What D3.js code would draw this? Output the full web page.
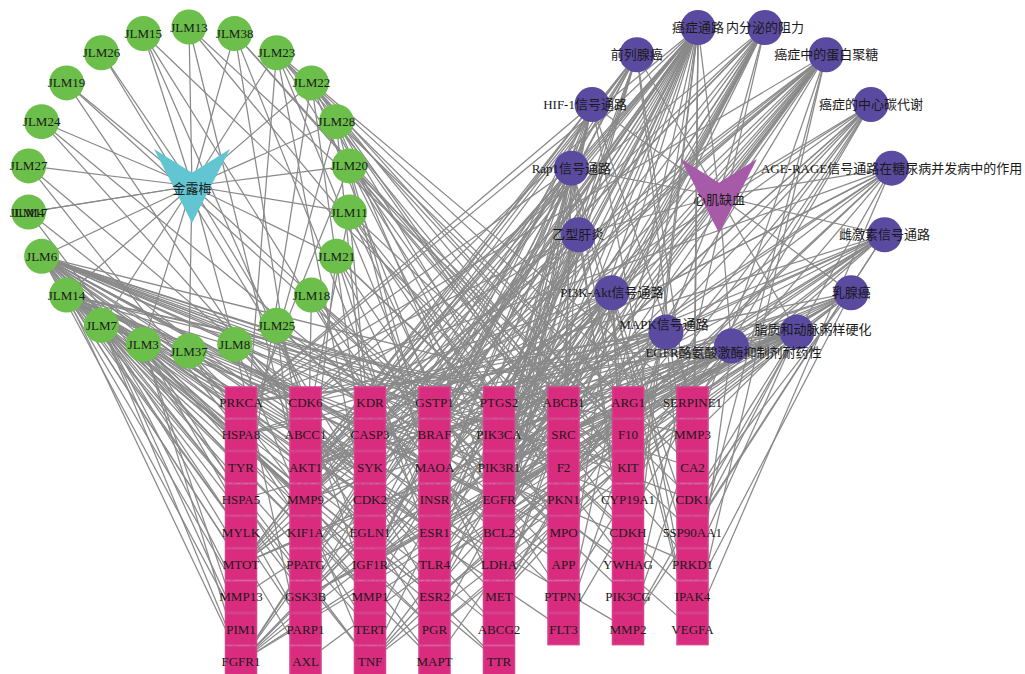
<!DOCTYPE html>
<html>
<head>
<meta charset="utf-8">
<script src="https://cdn.jsdelivr.net/npm/d3@7/dist/d3.min.js"></script>
<style>
  html, body { margin: 0; padding: 0; background: #fff; }
  svg text { font-family: "Liberation Serif", "Noto Sans CJK SC", serif; font-size: 13px; fill: #1a1a1a; }
</style>
</head>
<body>
<svg id="chart" width="1025" height="674"></svg>
<script>
// ---- nodes ----
const herb = "金露梅";
const disease = "心肌缺血";

// compound ring, clockwise from the top; JLM17 and JLM4 share one slot
const compoundSlots = [
  ["JLM13"], ["JLM38"], ["JLM23"], ["JLM22"], ["JLM28"], ["JLM20"], ["JLM11"],
  ["JLM21"], ["JLM18"], ["JLM25"], ["JLM8"], ["JLM37"], ["JLM3"], ["JLM7"],
  ["JLM14"], ["JLM6"], ["JLM17", "JLM4"], ["JLM27"], ["JLM24"], ["JLM19"],
  ["JLM26"], ["JLM15"]
];

// pathway ring, clockwise from the top
const pathways = [
  "癌症通路", "内分泌的阻力", "癌症中的蛋白聚糖", "癌症的中心碳代谢",
  "AGE-RAGE信号通路在糖尿病并发病中的作用", "雌激素信号通路", "乳腺癌",
  "脂质和动脉粥样硬化", "EGFR酪氨酸激酶抑制剂耐药性", "MAPK信号通路",
  "PI3K-Akt信号通路", "乙型肝炎", "Rap1信号通路", "HIF-1信号通路", "前列腺癌"
];

// target genes, one list per grid column
const geneColumns = [
  ["PRKCA", "HSPA8", "TYR", "HSPA5", "MYLK", "MTOT", "MMP13", "PIM1", "FGFR1"],
  ["CDK6", "ABCC1", "AKT1", "MMP9", "KIF1A", "PPATG", "GSK3B", "PARP1", "AXL"],
  ["KDR", "CASP3", "SYK", "CDK2", "EGLN1", "IGF1R", "MMP1", "TERT", "TNF"],
  ["GSTP1", "BRAF", "MAOA", "INSR", "ESR1", "TLR4", "ESR2", "PGR", "MAPT"],
  ["PTGS2", "PIK3CA", "PIK3R1", "EGFR", "BCL2", "LDHA", "MET", "ABCG2", "TTR"],
  ["ABCB1", "SRC", "F2", "PKN1", "MPO", "APP", "PTPN1", "FLT3"],
  ["ARG1", "F10", "KIT", "CYP19A1", "CDKH", "YWHAG", "PIK3CG", "MMP2"],
  ["SERPINE1", "MMP3", "CA2", "CDK1", "5SP90AA1", "PRKD1", "IPAK4", "VEGFA"]
];

// ---- links ----
const compoundTargets = [
  ["JLM6", "PRKCA HSPA8 TYR HSPA5 MYLK MTOT MMP13 PIM1 CDK6 AKT1 MMP9 GSK3B KDR CASP3 SYK CDK2 IGF1R GSTP1 BRAF MAOA INSR ESR1 PTGS2 PIK3CA EGFR SRC F2 ARG1 KIT CYP19A1 CA2 CDK1"],
  ["JLM14", "PRKCA HSPA5 MYLK MTOT FGFR1 CDK6 ABCC1 AKT1 KIF1A SYK CDK2 EGLN1 ESR1 ESR2 PGR PTGS2 PIK3R1 EGFR ABCB1 PKN1 MPO KIT MMP3 PRKD1"],
  ["JLM7", "MMP13 PIM1 FGFR1 PARP1 AXL TERT TNF CDK6 MMP9 ESR2 MAPT TTR"],
  ["JLM3", "PIM1 FGFR1 GSK3B PARP1 MMP1 PGR ABCG2 FLT3 MMP2"],
  ["JLM37", "TERT MAPT TTR LDHA"],
  ["JLM8", "AXL TNF TLR4 MET APP"],
  ["JLM25", "PPATG IGF1R MMP1 BCL2 PTPN1 YWHAG"],
  ["JLM18", "GSK3B ESR1 LDHA APP PIK3CG VEGFA"],
  ["JLM21", "KIF1A TLR4 MET PTPN1 CDKH IPAK4"],
  ["JLM11", "ABCC1 CASP3 BCL2 MPO YWHAG 5SP90AA1"],
  ["JLM20", "HSPA8 MAOA PIK3R1 F2 CYP19A1 PRKD1 CDK1"],
  ["JLM28", "TYR SYK INSR EGFR PKN1 CDKH CA2"],
  ["JLM22", "MYLK CDK2 GSTP1 PIK3CA SRC F10 KIT MMP3"],
  ["JLM23", "HSPA5 EGLN1 BRAF PTGS2 ABCB1 ARG1 F10 SERPINE1"],
  ["JLM38", "AKT1 ESR1 ABCB1 KIT"],
  ["JLM13", "MMP9 PTGS2 F10"],
  ["JLM15", "CDK6 INSR SRC"],
  ["JLM26", "ESR2"],
  ["JLM19", "PGR MPO"],
  ["JLM24", "EGFR ABCG2"],
  ["JLM27", "MMP1 LDHA"],
  ["JLM4", "TNF"],
  ["JLM17", "ESR1"]
];

const pathwayGenes = [
  ["癌症通路", "PRKCA MTOT FGFR1 CDK6 AKT1 MMP9 PPATG GSK3B KDR CASP3 CDK2 EGLN1 IGF1R MMP1 TERT GSTP1 BRAF ESR1 ESR2 PTGS2 PIK3CA PIK3R1 EGFR BCL2 MET KIT FLT3 MMP2 VEGFA 5SP90AA1 IPAK4 F2 PIK3CG"],
  ["内分泌的阻力", "MTOT AKT1 MMP9 IGF1R BRAF ESR1 ESR2 PIK3CA PIK3R1 EGFR BCL2 SRC CDK6 ABCB1 MMP2 PGR"],
  ["前列腺癌", "MTOT AKT1 GSK3B FGFR1 IGF1R CDK2 BRAF PIK3CA PIK3R1 EGFR BCL2 5SP90AA1 MMP3 MMP9"],
  ["癌症中的蛋白聚糖", "PRKCA MTOT FGFR1 AKT1 MMP9 KDR CASP3 IGF1R TNF BRAF ESR1 TLR4 PIK3CA PIK3R1 EGFR MET SRC MMP2 VEGFA PRKD1"],
  ["癌症的中心碳代谢", "MTOT FGFR1 AKT1 KIT FLT3 PIK3CA PIK3R1 EGFR MET LDHA PTPN1"],
  ["HIF-1信号通路", "PRKCA MTOT AKT1 IGF1R INSR EGLN1 TLR4 PIK3CA PIK3R1 EGFR BCL2 LDHA SERPINE1 VEGFA"],
  ["Rap1信号通路", "PRKCA FGFR1 AKT1 KDR IGF1R INSR BRAF PIK3CA PIK3R1 EGFR MET SRC KIT VEGFA F2 PIK3CG PRKD1"],
  ["AGE-RAGE信号通路在糖尿病并发病中的作用", "PRKCA AKT1 MMP2 CASP3 TNF PIK3CA PIK3R1 BCL2 SERPINE1 VEGFA MMP13"],
  ["乙型肝炎", "PRKCA AKT1 MMP9 CASP3 CDK2 TNF TLR4 PIK3CA PIK3R1 BCL2 SRC YWHAG CDK6"],
  ["雌激素信号通路", "AKT1 MMP9 HSPA8 MMP2 ESR1 ESR2 PGR PIK3CA PIK3R1 EGFR BCL2 SRC 5SP90AA1 BRAF"],
  ["PI3K-Akt信号通路", "MTOT FGFR1 CDK6 AKT1 GSK3B KDR CDK2 IGF1R INSR TLR4 PIK3CA PIK3R1 EGFR BCL2 MET KIT FLT3 PIK3CG YWHAG VEGFA 5SP90AA1"],
  ["乳腺癌", "MTOT FGFR1 CDK6 AKT1 GSK3B IGF1R BRAF ESR1 ESR2 PGR PIK3CA PIK3R1 EGFR KIT CDK1 IPAK4"],
  ["MAPK信号通路", "PRKCA FGFR1 AKT1 CASP3 KDR IGF1R INSR TNF BRAF EGFR MET KIT FLT3 VEGFA HSPA8 MAPT"],
  ["脂质和动脉粥样硬化", "PRKCA MTOT AKT1 MMP9 PPATG GSK3B CASP3 MMP1 TNF TLR4 PIK3CA PIK3R1 BCL2 SRC MMP3 HSPA8 HSPA5 5SP90AA1 CDK1 PRKD1"],
  ["EGFR酪氨酸激酶抑制剂耐药性", "PRKCA MTOT FGFR1 AKT1 GSK3B KDR IGF1R BRAF PIK3CA PIK3R1 EGFR BCL2 MET SRC AXL VEGFA"]
];

// ---- layout ----
const svg = d3.select("#chart");
const W = 1025, H = 674;
svg.append("rect").attr("width", W).attr("height", H).attr("fill", "#fff");

const pos = new Map();

// herb hub and compound ring
const herbHub = { x: 192, y: 186 };
const compoundAngle = d3.scaleLinear().domain([0, compoundSlots.length]).range([-Math.PI / 2, 1.5 * Math.PI]);
const compoundRing = { cx: 189, cy: 189, r: 162 };
compoundSlots.forEach((slot, i) => {
  const a = compoundAngle(i);
  slot.forEach(name => pos.set(name, {
    x: compoundRing.cx + compoundRing.r * Math.cos(a),
    y: compoundRing.cy + compoundRing.r * Math.sin(a)
  }));
});
pos.set(herb, herbHub);

// disease hub and pathway ring
const diseaseHub = { x: 719, y: 196 };
const pathwayAngle = d3.scaleLinear().domain([0, pathways.length]).range([-102 * Math.PI / 180, 258 * Math.PI / 180]);
const pathwayRing = { cx: 731.5, cy: 185, r: 161 };
pathways.forEach((name, i) => {
  const a = pathwayAngle(i);
  pos.set(name, {
    x: pathwayRing.cx + pathwayRing.r * Math.cos(a),
    y: pathwayRing.cy + pathwayRing.r * Math.sin(a)
  });
});
pos.set(disease, diseaseHub);

// label nudges for the crowded bottom of the pathway ring
const labelNudge = new Map([
  ["MAPK信号通路", [-2, -8]],
  ["EGFR酪氨酸激酶抑制剂耐药性", [2, 6]],
  ["脂质和动脉粥样硬化", [16, -3]],
  ["HIF-1信号通路", [-7, 0]]
]);

// gene grid
const colX = d3.scaleLinear().domain([0, 7]).range([241, 692.5]);
const rowY = d3.scaleLinear().domain([0, 8]).range([402.5, 661.5]);
const genes = [];
geneColumns.forEach((col, c) => col.forEach((g, r) => {
  const p = { x: colX(c), y: rowY(r) };
  pos.set(g, p);
  genes.push({ name: g, ...p });
}));

// ---- edges ----
const links = [];
compoundSlots.flat().forEach(c => links.push([herb, c]));
pathways.forEach(p => links.push([disease, p]));
compoundTargets.forEach(([c, list]) => list.split(" ").forEach(g => links.push([c, g])));
pathwayGenes.forEach(([p, list]) => list.split(" ").forEach(g => links.push([p, g])));

svg.append("g")
  .attr("stroke", "#898989")
  .attr("stroke-width", 1.25)
  .selectAll("line")
  .data(links.filter(([a, b]) => pos.has(a) && pos.has(b)))
  .join("line")
  .attr("x1", d => pos.get(d[0]).x)
  .attr("y1", d => pos.get(d[0]).y)
  .attr("x2", d => pos.get(d[1]).x)
  .attr("y2", d => pos.get(d[1]).y);

// ---- nodes ----
const vShape = (w, h) => {
  // downward chevron: two upper wings meeting at a bottom point
  const p = d3.path();
  p.moveTo(-w / 2, -h / 2);
  p.lineTo(0, -h / 2 + h * 0.32);
  p.lineTo(w / 2, -h / 2);
  p.lineTo(0, h / 2);
  p.closePath();
  return p.toString();
};

svg.append("path").attr("d", vShape(76, 74))
  .attr("transform", `translate(${herbHub.x},${herbHub.y})`).attr("fill", "#62c6d2");
svg.append("path").attr("d", vShape(76, 74))
  .attr("transform", `translate(${diseaseHub.x},${diseaseHub.y})`).attr("fill", "#a65aa8");

svg.append("g").selectAll("circle")
  .data(compoundSlots.map(s => s[0]))
  .join("circle")
  .attr("cx", d => pos.get(d).x).attr("cy", d => pos.get(d).y)
  .attr("r", 17.5).attr("fill", "#6cbf4a");

svg.append("g").selectAll("circle")
  .data(pathways)
  .join("circle")
  .attr("cx", d => pos.get(d).x).attr("cy", d => pos.get(d).y)
  .attr("r", 17.5).attr("fill", "#5b4ba0");

const cell = { w: 31, h: 31 };
svg.append("g").selectAll("rect")
  .data(genes)
  .join("rect")
  .attr("x", d => d.x - cell.w / 2).attr("y", d => d.y - cell.h / 2)
  .attr("width", cell.w).attr("height", cell.h)
  .attr("fill", "#da2c7f")
  .attr("stroke", "#d5418b").attr("stroke-width", 1.5);

// ---- labels ----
const nudged = n => {
  const p = pos.get(n), d = labelNudge.get(n) || [0, 0];
  return { t: n, x: p.x + d[0], y: p.y + d[1] };
};
const labels = [
  ...compoundSlots.flat().map(nudged),
  ...pathways.map(nudged),
  ...genes.map(g => ({ t: g.name, x: g.x, y: g.y })),
  { t: herb, x: herbHub.x, y: herbHub.y + 2 },
  { t: disease, x: diseaseHub.x, y: diseaseHub.y + 3 }
];
svg.append("g").selectAll("text")
  .data(labels)
  .join("text")
  .attr("x", d => d.x).attr("y", d => d.y)
  .attr("text-anchor", "middle")
  .attr("dominant-baseline", "central")
  .text(d => d.t);
</script>
</body>
</html>
